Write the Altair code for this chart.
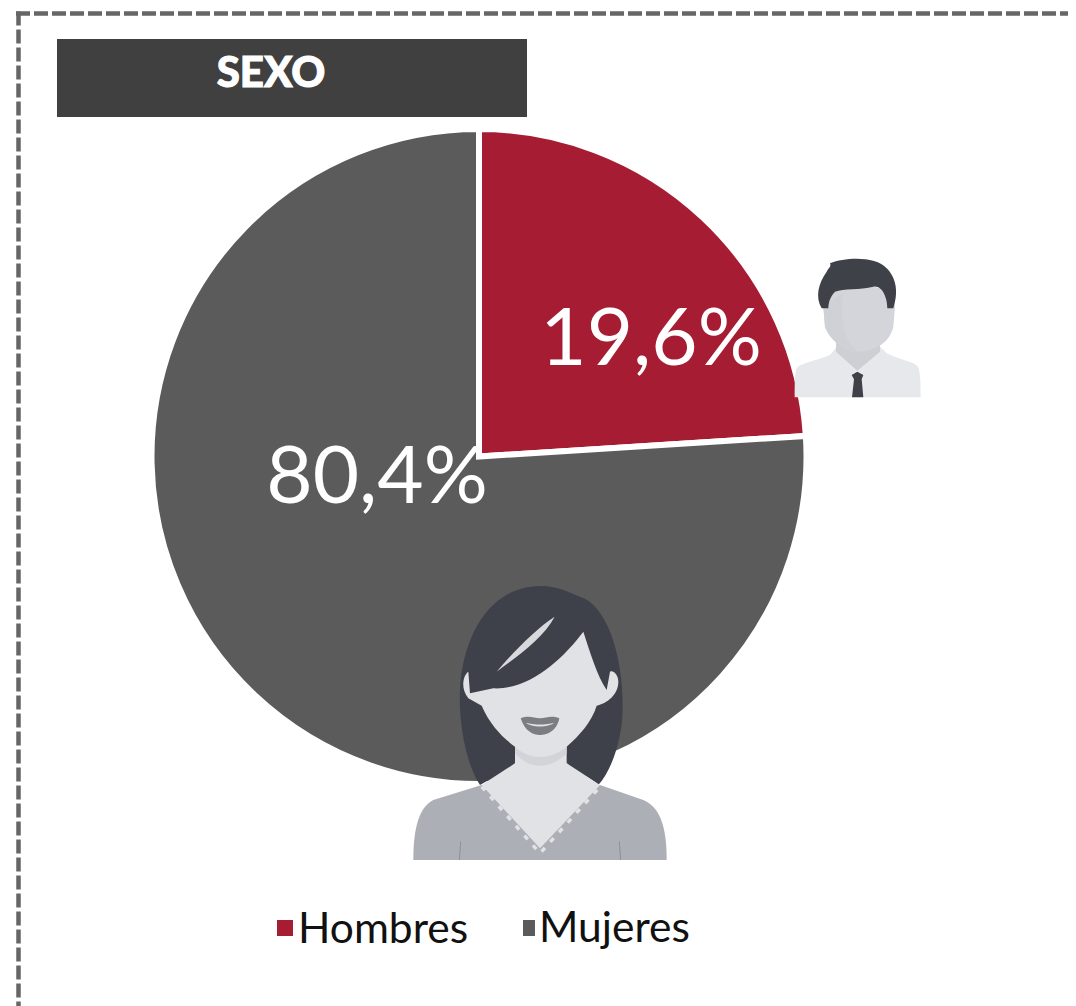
import altair as alt
import pandas as pd

title_text = "SEXO"
categories = ["Hombres", "Mujeres"]
slice_values = [24.0, 76.0]   # angular size as drawn in the picture
slice_labels = ["19,6%", "80,4%"]
colors = ["#A61C33", "#5B5B5B"]

pie_df = pd.DataFrame({"sexo": categories, "valor": slice_values, "orden": [0, 1]})
one = pd.DataFrame({"a": [0]})

DPI = 0.4444444  # symbol size that draws a path at 1/3 scale


def shape(path, fill, ox, oy):
    return (
        alt.Chart(one)
        .mark_point(shape=path, size=DPI, filled=True, fill=fill, opacity=1, strokeWidth=0)
        .encode(x=alt.value(ox - 8), y=alt.value(oy - 8))
    )


def line(path, color, width, dash, ox, oy):
    return (
        alt.Chart(one)
        .mark_point(shape=path, size=DPI, filled=False, fill="transparent", stroke=color,
                    strokeWidth=width, strokeDash=dash, opacity=1)
        .encode(x=alt.value(ox - 8), y=alt.value(oy - 8))
    )


# frame
frame_top = alt.Chart(one).mark_rule(color="#666666", strokeWidth=4.5, strokeDash=[14, 4]).encode(
    x=alt.value(8), x2=alt.value(1068), y=alt.value(5.5))
frame_left = alt.Chart(one).mark_rule(color="#666666", strokeWidth=4.5, strokeDash=[14, 4]).encode(
    x=alt.value(10.5), y=alt.value(3.5), y2=alt.value(998))

# header
header = alt.Chart(one).mark_rect(color="#404040").encode(
    x=alt.value(49), x2=alt.value(519), y=alt.value(31), y2=alt.value(109))
header_text = alt.Chart(one).mark_text(
    text=title_text, font="Lato", fontWeight=900, fontSize=42, color="#FFFFFF",
    stroke="#FFFFFF", strokeWidth=1,
    align="center", baseline="middle").encode(x=alt.value(263), y=alt.value(66))

# pie
pie = alt.Chart(pie_df).mark_arc(outerRadius=327.5, stroke="#FFFFFF", strokeWidth=6).encode(
    theta=alt.Theta("valor:Q", stack=True),
    order=alt.Order("orden:Q"),
    color=alt.Color("sexo:N", scale=alt.Scale(domain=categories, range=colors), legend=None),
    x=alt.value(471),
    y=alt.value(448.5),
)

lab_h = alt.Chart(one).mark_text(text=slice_labels[0], font="Lato", fontSize=80, color="#FFFFFF",
                                 align="center", baseline="middle").encode(x=alt.value(643), y=alt.value(333))
lab_m = alt.Chart(one).mark_text(text=slice_labels[1], font="Lato", fontSize=80, color="#FFFFFF",
                                 align="center", baseline="middle").encode(x=alt.value(369), y=alt.value(471))

# legend
key_h = alt.Chart(one).mark_rect(color=colors[0]).encode(
    x=alt.value(269), x2=alt.value(285), y=alt.value(912), y2=alt.value(928))
key_m = alt.Chart(one).mark_rect(color=colors[1]).encode(
    x=alt.value(515), x2=alt.value(527), y=alt.value(912), y2=alt.value(928))
leg_h = alt.Chart(one).mark_text(text=categories[0], font="Lato", fontSize=42.5, color="#111111",
                                 align="left", baseline="alphabetic").encode(x=alt.value(290), y=alt.value(934.5))
leg_m = alt.Chart(one).mark_text(text=categories[1], font="Lato", fontSize=42.5, color="#111111",
                                 align="left", baseline="alphabetic").encode(x=alt.value(531), y=alt.value(934))

# man icon, path units are 1/3 px from (780, 240)
MX, MY = 780, 240
man = [
    shape("M44,472 C44,440 44,395 50,385 C60,370 100,365 150,345 L170,320 L300,320 L320,340 "
          "C360,360 400,365 412,378 C422,390 422,440 422,472 Z", "#E7E8EB", MX, MY),
    shape("M168,300 L168,335 L232,392 L300,335 L300,300 Z", "#CDCFD4", MX, MY),
    shape("M130,200 C125,110 340,110 345,200 L340,260 C330,305 290,332 235,335 "
          "C190,332 150,300 135,260 Z", "#D3D5DA", MX, MY),
    shape("M190,160 C180,230 185,300 235,335 C190,332 150,300 135,260 L130,200 Z", "#CFD1D6", MX, MY),
    shape("M150,70 C200,50 290,50 320,85 C345,110 358,150 340,205 L322,205 C322,170 305,135 280,140 "
          "C240,150 190,145 165,155 C150,170 145,190 145,205 L125,205 C105,170 115,130 140,95 "
          "C145,85 155,80 150,70 Z", "#3E4147", MX, MY),
    shape("M215,405 L232,395 L250,405 L245,418 L250,472 L216,472 L222,418 Z", "#3E4147", MX, MY),
]

# woman icon, path units are 1/3 px from (400, 575)
WX, WY = 400, 575
woman = [
    shape("M40,855 C40,780 50,700 100,675 L245,630 L600,630 L730,675 C790,700 800,780 800,855 Z",
          "#ADAFB6", WX, WY),
    shape("M240,630 C200,570 175,450 180,340 C190,180 270,35 420,33 C480,33 510,55 540,65 "
          "C620,90 670,240 668,400 C668,480 640,580 595,630 C560,600 520,590 500,560 L345,560 "
          "C330,590 280,605 240,630 Z", "#3E414A", WX, WY),
    shape("M245,630 L420,820 L600,630 L500,565 L500,510 L345,510 L345,565 Z", "#E1E2E6", WX, WY),
    shape("M345,515 C390,555 450,555 500,515 L500,535 C450,585 390,585 345,535 Z", "#D3D4D9", WX, WY),
    shape("M205,290 C190,300 180,340 205,370 L245,392 C270,450 310,490 345,515 C390,555 450,555 500,515 "
          "C540,480 575,440 590,392 C620,385 655,360 655,320 C655,300 640,285 630,290 L620,345 "
          "C590,300 570,230 550,170 C490,250 390,345 280,340 L210,355 Z", "#E1E2E6", WX, WY),
    shape("M464,125 C410,160 345,225 290,290 C350,245 430,190 464,125 Z", "#D8D9DD", WX, WY),
    shape("M362,430 C385,420 400,428 420,430 C440,428 455,420 478,430 C470,470 440,480 420,480 "
          "C400,480 375,470 362,430 Z", "#7B7D82", WX, WY),
    shape("M378,443 C400,450 440,450 462,443 C445,458 395,458 378,443 Z", "#E1E2E6", WX, WY),
    line("M245,635 L420,835 L600,635", "#E1E2E6", 3.5, [5, 8], WX, WY),
    line("M178,855 L182,800", "#8F9198", 1, [1, 0], WX, WY),
    line("M662,855 L658,800", "#8F9198", 1, [1, 0], WX, WY),
]

chart = alt.layer(
    frame_top, frame_left, header, header_text, pie, lab_h, lab_m,
    key_h, key_m, leg_h, leg_m, *man, *woman
).properties(
    width=1060, height=998, padding=0, autosize=alt.AutoSizeParams(type="none")
).configure_view(stroke=None)

chart.save("out.html", embed_options={"renderer": "svg", "actions": False})
